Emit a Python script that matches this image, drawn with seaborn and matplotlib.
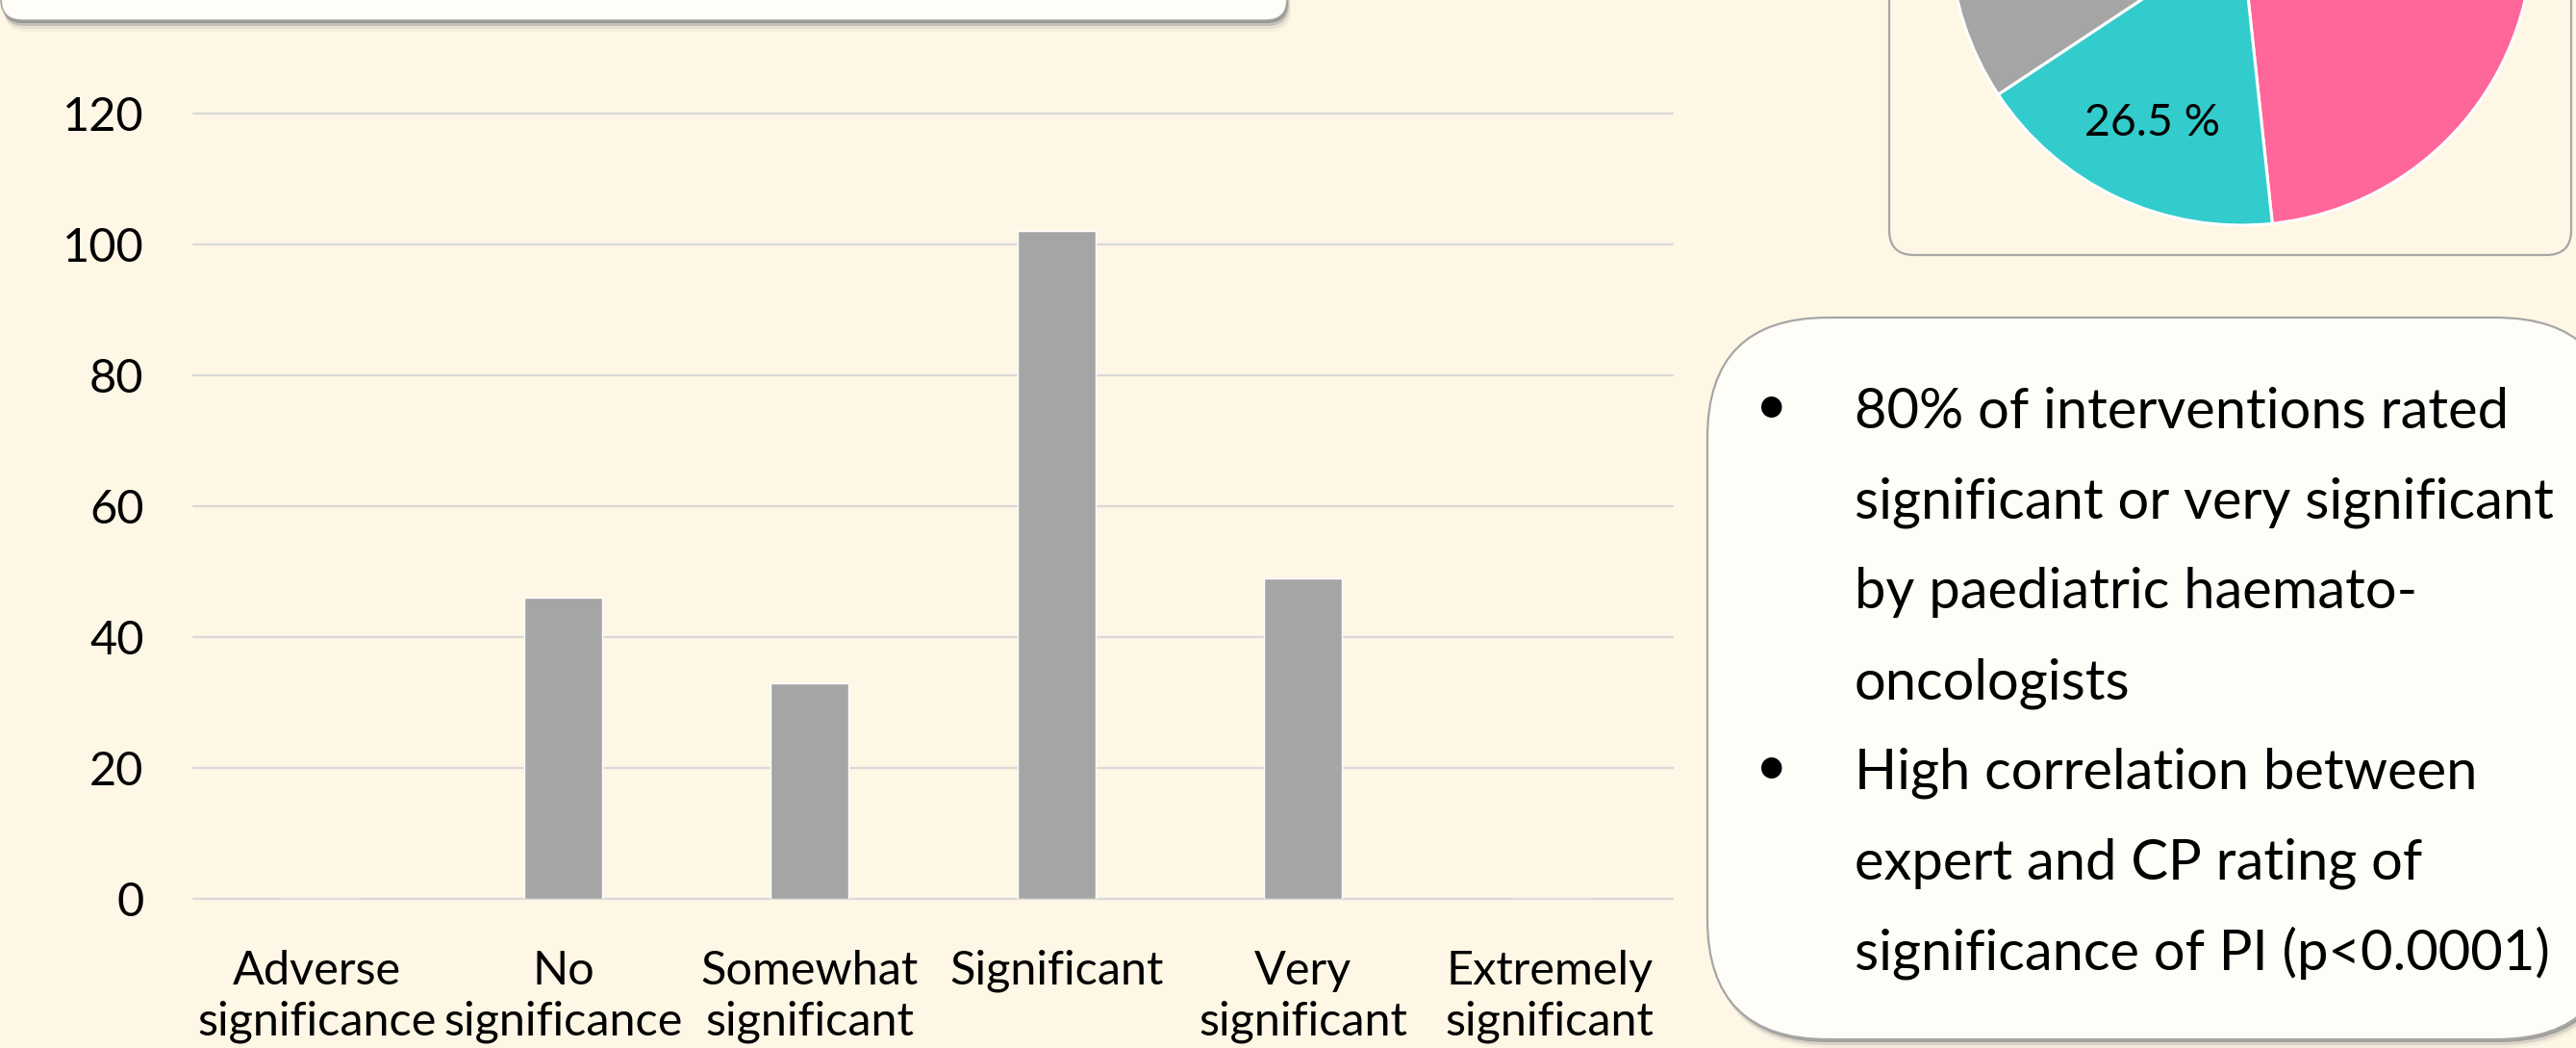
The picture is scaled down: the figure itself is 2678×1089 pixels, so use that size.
import matplotlib
matplotlib.use("Agg")
import matplotlib.pyplot as plt
import seaborn as sns
from matplotlib.patches import FancyBboxPatch

# ---------------- data ----------------
categories = ["Adverse\nsignificance", "No\nsignificance", "Somewhat\nsignificant",
              "Significant", "Very\nsignificant", "Extremely\nsignificant"]
counts = [0, 46, 33, 102, 49, 0]
y_ticks = [0, 20, 40, 60, 80, 100, 120]

pie_values = [48.3, 17.4, 34.3]
pie_colors = ["#FF6699", "#33CCCC", "#A5A5A5"]
pie_labels = ["", "26.5 %", ""]

summary_lines = [
    "80% of interventions rated",
    "significant or very significant",
    "by paediatric haemato-",
    "oncologists",
    "High correlation between",
    "expert and CP rating of",
    "significance of PI (p<0.0001)",
]
bullet_rows = [0, 4]

# ---------------- style ----------------
BG = "#FFF7E5"
BOX_FC = "#FFFDF7"
BOX_EC = "#A6A6A6"
BAR_C = "#A5A5A5"
GRID_C = "#D9D9D9"
FONT = "Lato"

sns.set_theme(style="white")
plt.rcParams["font.family"] = [FONT, "DejaVu Sans"]

W, H = 2678, 1089
fig = plt.figure(figsize=(W / 100, H / 100), dpi=100)
fig.patch.set_facecolor(BG)
renderer = fig.canvas.get_renderer()


def fit_size(text, target_px):
    t = fig.text(0, 0, text, fontsize=20, family=[FONT, "DejaVu Sans"])
    w = t.get_window_extent(renderer).width
    t.remove()
    return 20 * target_px / w


fs_box = fit_size("significance of PI (p<0.0001)", 724)
fs_tick = fit_size("significance", 250)
fs_pie = fit_size("26.5 %", 141)

# background / decoration axes in pixel units
bg = fig.add_axes([0, 0, 1, 1], zorder=0)
bg.set_xlim(0, W)
bg.set_ylim(H, 0)
bg.axis("off")


def rbox(x0, y0, x1, y1, r, fc, ec, lw, shadow=None):
    if shadow:
        for dx, dy, a in shadow:
            bg.add_patch(FancyBboxPatch((x0 + dx, y0 + dy), x1 - x0, y1 - y0,
                                        boxstyle=f"round,pad=0,rounding_size={r}",
                                        fc="#8C8C8C", ec="none", alpha=a, zorder=1))
    bg.add_patch(FancyBboxPatch((x0, y0), x1 - x0, y1 - y0,
                                boxstyle=f"round,pad=0,rounding_size={r}",
                                fc=fc, ec=ec, lw=lw, zorder=2))


# title box (cut at the top)
rbox(1, -120, 1338, 21, 22, BOX_FC, BOX_EC, 1.2,
     shadow=[(1, 3, 0.8), (2, 6, 0.35), (3, 9, 0.15), (4, 12, 0.07)])
# pie panel box
rbox(1964, -120, 2673, 265, 26, "none", BOX_EC, 1.6)
# summary text box
rbox(1775, 330, 2720, 1080, 125, BOX_FC, BOX_EC, 1.6,
     shadow=[(2, 3, 0.7), (3, 6, 0.25), (4, 9, 0.1)])

base0, step = 445, 93.7
for i, line in enumerate(summary_lines):
    y = base0 + i * step
    bg.text(1928, y, line, ha="left", va="baseline", fontsize=fs_box,
            color="black", zorder=3)
    if i in bullet_rows:
        bg.text(1842, y - 4, "\u2022", ha="center", va="baseline", fontsize=fs_box,
                color="black", zorder=3)

# ---------------- bar chart ----------------
ax = fig.add_axes([201 / W, (H - 934) / H, (1739 - 201) / W, (934 - 117.7) / H], zorder=1)
ax.patch.set_alpha(0)
sns.barplot(x=categories, y=counts, color=BAR_C, saturation=1, width=0.316,
            order=categories, ax=ax, zorder=3)
ax.set_xlim(-0.5, len(categories) - 0.5)
ax.set_ylim(0, 120)
ax.set_yticks(y_ticks)
ax.set_xlabel("")
ax.set_ylabel("")
ax.set_axisbelow(True)
ax.grid(axis="y", color=GRID_C, lw=1.6)
ax.grid(axis="x", visible=False)
for gl in ax.get_ygridlines():
    gl.set_clip_on(False)
for s in ax.spines.values():
    s.set_visible(False)
ax.tick_params(axis="y", length=0, pad=37, labelsize=fs_tick, colors="black")
ax.tick_params(axis="x", length=0, pad=38, labelsize=fs_tick, colors="black")
for lab in ax.get_xticklabels():
    lab.set_linespacing(1.25)

# ---------------- pie chart ----------------
cx, cy, r = 2330, -69, 303
pax = fig.add_axes([(cx - r) / W, (H - cy - r) / H, 2 * r / W, 2 * r / H], zorder=2)
lab_iter = iter(pie_labels)
pax.pie(pie_values, colors=pie_colors, startangle=90, counterclock=False,
        wedgeprops=dict(edgecolor="white", linewidth=2.2),
        autopct=lambda p: next(lab_iter), pctdistance=0.72,
        textprops=dict(fontsize=fs_pie, color="black"))
pax.set_xlim(-1, 1)
pax.set_ylim(-1, 1)
pax.set_aspect("equal")

fig.savefig("out.png", dpi=100, facecolor=BG)
